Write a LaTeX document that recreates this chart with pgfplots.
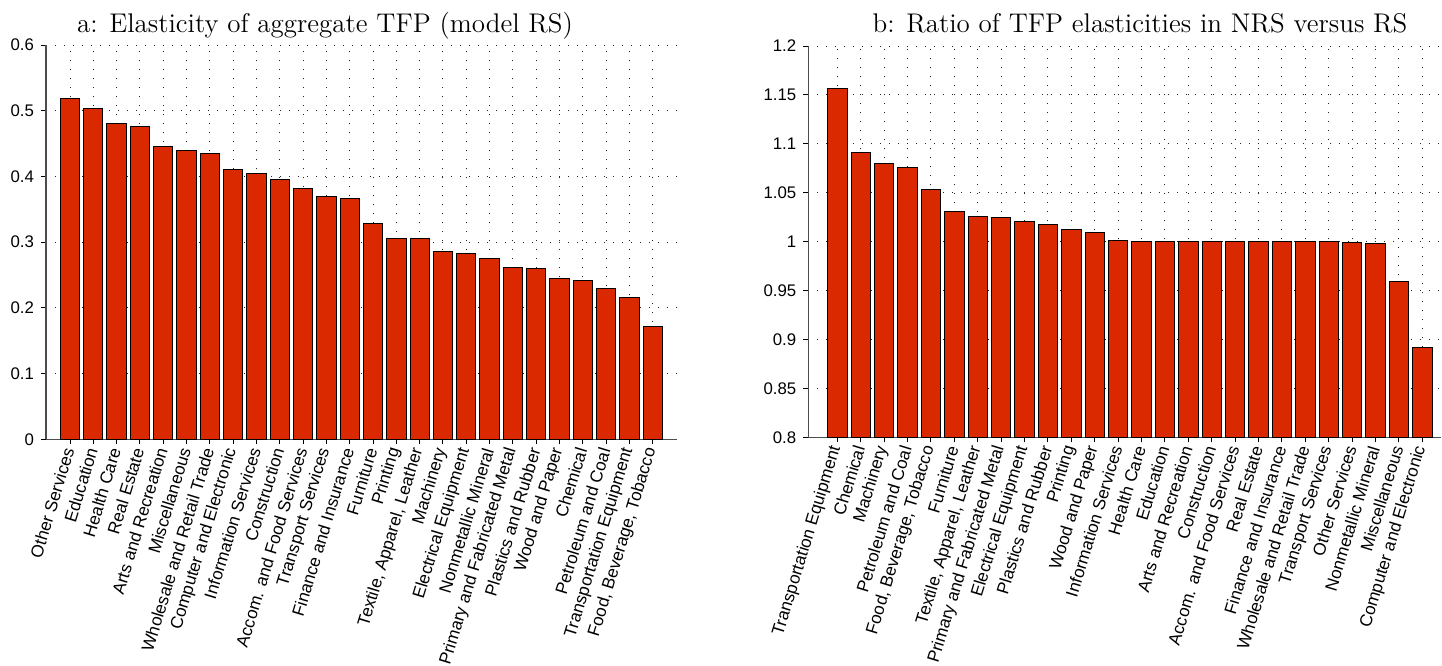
\documentclass[border=0pt]{standalone}
\usepackage{pgfplots}
\pgfplotsset{compat=1.18}
\usepackage{fontspec}
\setsansfont{Liberation Sans}

\definecolor{barred}{RGB}{218,40,0}
\newcommand\ticklab{\fontsize{8.4pt}{9pt}\selectfont\sffamily}
\newcommand\catlab{\fontsize{8.6pt}{9pt}\selectfont\sffamily}
\newcommand\titlefont{\fontsize{13.5pt}{15pt}\selectfont}

\pgfplotsset{
  panel/.style={
    scale only axis,
    anchor=south west,
    axis lines=left,
    axis line style={-, black!70, line width=0.6pt},
    tick align=outside,
    major tick length=2.5pt,
    tick style={black, line width=0.5pt},
    xtick={0,...,25},
    grid=major,
    major grid style={black!85, line width=0.5pt, dash pattern=on 0.5pt off 4pt},
    ybar,
    bar width=0.83,
    yticklabel style={font=\ticklab},
    xticklabel style={font=\catlab, rotate=73, anchor=east, inner sep=2pt},
  },
  bars/.style={fill=barred, draw=black, line width=0.5pt},
}

\begin{document}
\begin{tikzpicture}
\useasboundingbox (0pt,0pt) rectangle (721pt,332.5pt);

% a: elasticity of aggregate TFP
\begin{axis}[panel,
    at={(23pt,112.85pt)},
    width=315.4pt, height=197.15pt,
    xmin=-1.03, xmax=26.03,
    ymin=0, ymax=0.6,
    ytick={0,0.1,0.2,0.3,0.4,0.5,0.6},
    yticklabels={0,0.1,0.2,0.3,0.4,0.5,0.6},
    xticklabels={Other Services, Education, Health Care, Real Estate,
      Arts and Recreation, Miscellaneous, Wholesale and Retail Trade,
      Computer and Electronic, Information Services, Construction,
      Accom. and Food Services, Transport Services, Finance and Insurance,
      Furniture, Printing, {Textile, Apparel, Leather}, Machinery,
      Electrical Equipment, Nonmetallic Mineral, Primary and Fabricated Metal,
      Plastics and Rubber, Wood and Paper, Chemical, Petroleum and Coal,
      Transportation Equipment, {Food, Beverage, Tobacco}},
  ]
  \addplot[bars] coordinates {
    (0,0.519) (1,0.504) (2,0.481) (3,0.476) (4,0.445) (5,0.440)
    (6,0.435) (7,0.410) (8,0.405) (9,0.395) (10,0.382) (11,0.369)
    (12,0.367) (13,0.329) (14,0.306) (15,0.305) (16,0.286) (17,0.283)
    (18,0.275) (19,0.261) (20,0.260) (21,0.244) (22,0.241) (23,0.230)
    (24,0.216) (25,0.171)
  };
\end{axis}
\node[font=\titlefont, anchor=base] at (162.5pt,316pt) {a: Elasticity of aggregate TFP (model RS)};

% b: ratio NRS / RS
\begin{axis}[panel,
    at={(404.15pt,113.85pt)},
    width=316.4pt, height=195.65pt,
    xmin=-1.24, xmax=25.8,
    ymin=0.8, ymax=1.2,
    ytick={0.8,0.85,0.9,0.95,1,1.05,1.1,1.15,1.2},
    yticklabels={0.8,0.85,0.9,0.95,1,1.05,1.1,1.15,1.2},
    xticklabels={Transportation Equipment, Chemical, Machinery,
      Petroleum and Coal, {Food, Beverage, Tobacco}, Furniture,
      {Textile, Apparel, Leather}, Primary and Fabricated Metal,
      Electrical Equipment, Plastics and Rubber, Printing, Wood and Paper,
      Information Services, Health Care, Education, Arts and Recreation,
      Construction, Accom. and Food Services, Real Estate,
      Finance and Insurance, Wholesale and Retail Trade, Transport Services,
      Other Services, Nonmetallic Mineral, Miscellaneous,
      Computer and Electronic},
  ]
  \addplot[bars] coordinates {
    (0,1.157) (1,1.091) (2,1.080) (3,1.076) (4,1.053) (5,1.031)
    (6,1.026) (7,1.025) (8,1.021) (9,1.018) (10,1.012) (11,1.009)
    (12,1.001) (13,1.000) (14,1.000) (15,1.000) (16,1.000) (17,1.000)
    (18,1.000) (19,1.000) (20,1.000) (21,0.9997) (22,0.9993) (23,0.9986)
    (24,0.959) (25,0.892)
  };
\end{axis}
\node[font=\titlefont, anchor=base] at (570pt,316pt) {b: Ratio of TFP elasticities in NRS versus RS};
\end{tikzpicture}
\end{document}
